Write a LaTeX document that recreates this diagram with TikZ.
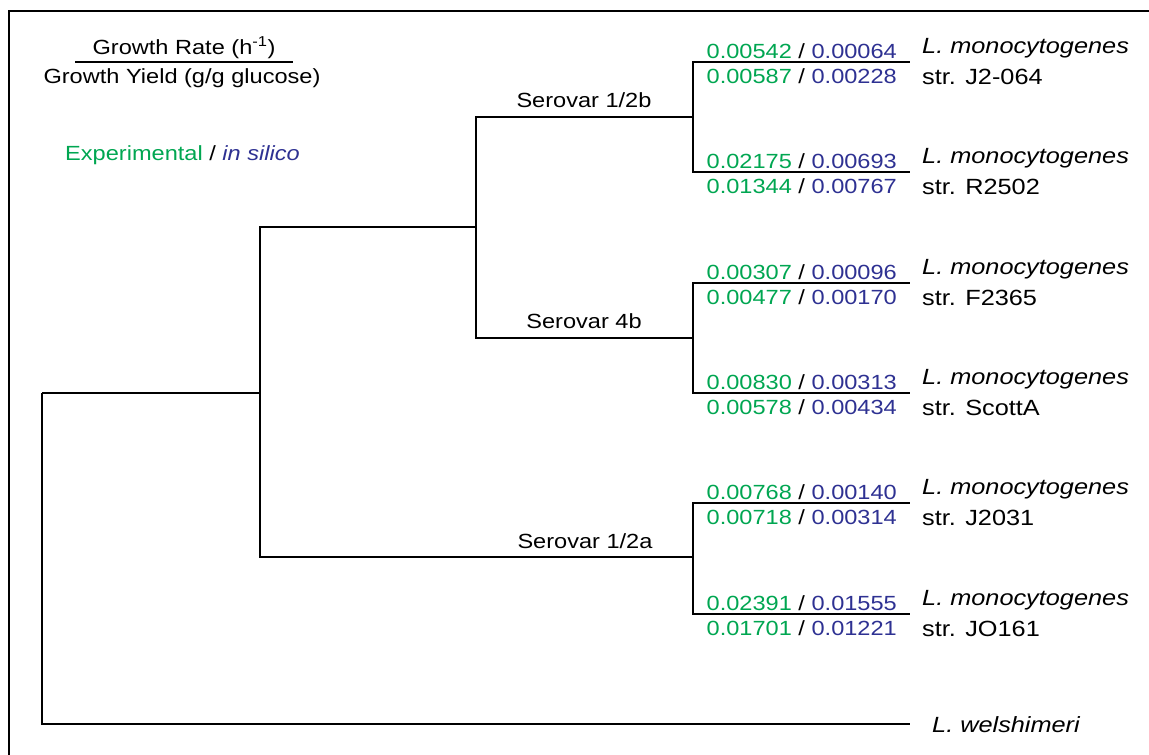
\documentclass[tikz,border=0pt]{standalone}
\usepackage{fontspec}
\setmainfont{Liberation Sans}[FakeStretch=1.15]
\definecolor{expgreen}{RGB}{0,166,81}
\definecolor{silblue}{RGB}{46,49,146}
\newcommand{\ratiopair}[2]{\textcolor{expgreen}{#1} / \textcolor{silblue}{#2}}
\begin{document}
\begin{tikzpicture}[x=1pt,y=-1pt,
  branch/.style={line width=2pt, line join=miter},
  frameline/.style={line width=2.8pt},
  numtxt/.style={anchor=base east, inner sep=0pt, font=\fontsize{20.5}{24}\selectfont},
  sptxt/.style={anchor=base west, inner sep=0pt, font=\fontsize{22}{26}\selectfont},
  sertxt/.style={anchor=base, inner sep=0pt, font=\fontsize{20.5}{24}\selectfont},
  legtxt/.style={anchor=base, inner sep=0pt, font=\fontsize{20.5}{24}\selectfont}]
\useasboundingbox (0,0) rectangle (1149,755);
% frame (top and left edges)
\coordinate (f1) at (9,755);
\coordinate (f2) at (9,11);
\coordinate (f3) at (1149,11);
\draw[frameline] (f1) -- (f2) -- (f3);
% legend
\node[legtxt] (lrate) at (184,54) {Growth Rate (h\textsuperscript{-1})};
\node[legtxt] (lyield) at (182,83) {Growth Yield (g/g glucose)};
\coordinate (fracL) at (75,62);
\coordinate (fracR) at (293,62);
\draw[line width=1.4pt] (fracL) -- (fracR);
\node[legtxt, anchor=base west] (lexp) at (65,160) {\textcolor{expgreen}{Experimental} / \textcolor{silblue}{\itshape in silico}};
% tree nodes
\coordinate (R) at (42,393);
\coordinate (A) at (260,393);
\coordinate (B) at (476,227);
\coordinate (D) at (693,117);
\coordinate (E) at (693,338);
\coordinate (F) at (693,557);
\coordinate (W) at (910,724);
\coordinate (l1) at (910,62);
\coordinate (l2) at (910,172);
\coordinate (l3) at (910,283);
\coordinate (l4) at (910,393);
\coordinate (l5) at (910,503);
\coordinate (l6) at (910,614);
% branches
\draw[branch] (R) |- (A);
\draw[branch] (R) |- (W);
\draw[branch] (A) |- (B);
\draw[branch] (A) |- (F);
\draw[branch] (B) |- (D);
\draw[branch] (B) |- (E);
\draw[branch] (D) |- (l1);
\draw[branch] (D) |- (l2);
\draw[branch] (E) |- (l3);
\draw[branch] (E) |- (l4);
\draw[branch] (F) |- (l5);
\draw[branch] (F) |- (l6);
% serovar labels
\node[sertxt] (s12b) at (584,107) {Serovar 1/2b};
\node[sertxt] (s4b) at (584,328) {Serovar 4b};
\node[sertxt] (s12a) at (585,548) {Serovar 1/2a};
% leaf 1
\node[numtxt] (n1a) at ([shift={(-13,-4)}]l1) {\ratiopair{0.00542}{0.00064}};
\node[numtxt] (n1b) at ([shift={(-13,21)}]l1) {\ratiopair{0.00587}{0.00228}};
\node[sptxt] (t1a) at ([shift={(12,-9)}]l1) {\itshape L. monocytogenes};
\node[sptxt] (t1b) at ([shift={(12,22)}]l1) {str. J2-064};
% leaf 2
\node[numtxt] (n2a) at ([shift={(-13,-4)}]l2) {\ratiopair{0.02175}{0.00693}};
\node[numtxt] (n2b) at ([shift={(-13,21)}]l2) {\ratiopair{0.01344}{0.00767}};
\node[sptxt] (t2a) at ([shift={(12,-9)}]l2) {\itshape L. monocytogenes};
\node[sptxt] (t2b) at ([shift={(12,22)}]l2) {str. R2502};
% leaf 3
\node[numtxt] (n3a) at ([shift={(-13,-4)}]l3) {\ratiopair{0.00307}{0.00096}};
\node[numtxt] (n3b) at ([shift={(-13,21)}]l3) {\ratiopair{0.00477}{0.00170}};
\node[sptxt] (t3a) at ([shift={(12,-9)}]l3) {\itshape L. monocytogenes};
\node[sptxt] (t3b) at ([shift={(12,22)}]l3) {str. F2365};
% leaf 4
\node[numtxt] (n4a) at ([shift={(-13,-4)}]l4) {\ratiopair{0.00830}{0.00313}};
\node[numtxt] (n4b) at ([shift={(-13,21)}]l4) {\ratiopair{0.00578}{0.00434}};
\node[sptxt] (t4a) at ([shift={(12,-9)}]l4) {\itshape L. monocytogenes};
\node[sptxt] (t4b) at ([shift={(12,22)}]l4) {str. ScottA};
% leaf 5
\node[numtxt] (n5a) at ([shift={(-13,-4)}]l5) {\ratiopair{0.00768}{0.00140}};
\node[numtxt] (n5b) at ([shift={(-13,21)}]l5) {\ratiopair{0.00718}{0.00314}};
\node[sptxt] (t5a) at ([shift={(12,-9)}]l5) {\itshape L. monocytogenes};
\node[sptxt] (t5b) at ([shift={(12,22)}]l5) {str. J2031};
% leaf 6
\node[numtxt] (n6a) at ([shift={(-13,-4)}]l6) {\ratiopair{0.02391}{0.01555}};
\node[numtxt] (n6b) at ([shift={(-13,21)}]l6) {\ratiopair{0.01701}{0.01221}};
\node[sptxt] (t6a) at ([shift={(12,-9)}]l6) {\itshape L. monocytogenes};
\node[sptxt] (t6b) at ([shift={(12,22)}]l6) {str. JO161};
% outgroup
\node[sptxt] (tw) at ([shift={(22,8)}]W) {\itshape L. welshimeri};
\end{tikzpicture}
\end{document}
